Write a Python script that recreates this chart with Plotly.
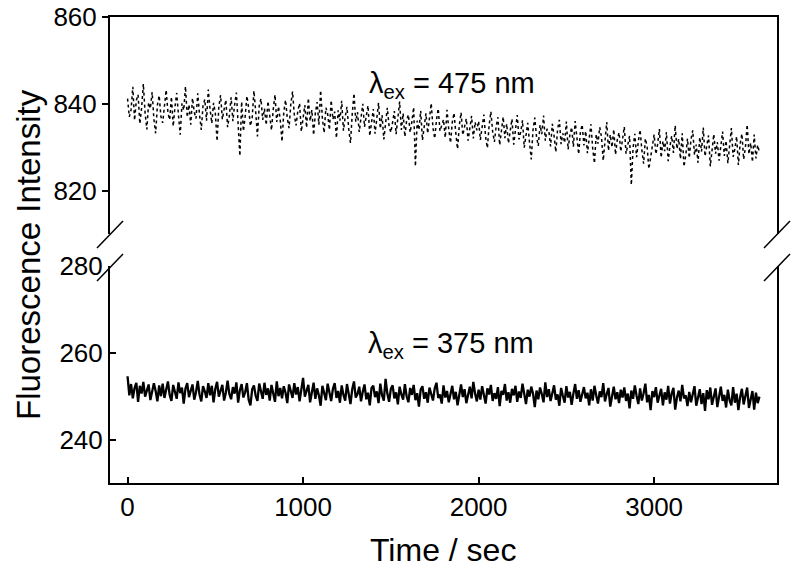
import plotly.graph_objects as go

# time axis (s), one reading every 10 s
time_s = list(range(0, 3601, 10))

# fluorescence, excitation 475 nm (upper panel)
f475 = [
    841.2, 837.0, 838.6, 843.9, 836.2, 840.8, 842.1, 835.4, 839.0, 844.6, 837.8, 834.1, 840.3, 838.9, 842.7, 836.5, 833.2, 839.7, 841.9, 837.1,
    835.6, 840.4, 843.2, 838.0, 836.3, 841.6, 834.8, 839.2, 842.5, 837.4, 832.9, 840.1, 838.5, 844.0, 836.9, 839.8, 835.2, 841.3, 838.1, 836.6,
    842.4, 837.5, 834.0, 839.6, 841.0, 836.1, 843.3, 838.8, 835.5, 840.2, 837.9, 831.4, 839.3, 842.0, 836.4, 838.7, 840.9, 834.6, 837.2, 841.5,
    836.0, 839.8, 842.6, 835.3, 828.0, 840.5, 833.7, 837.1, 841.8, 839.0, 834.9, 836.8, 843.0, 838.2, 832.5, 839.5, 841.2, 836.3, 838.9, 835.1,
    840.6, 837.3, 833.9, 838.7, 842.1, 835.8, 839.4, 836.2, 831.3, 838.0, 840.9, 836.7, 834.4, 839.9, 842.8, 837.5, 835.0, 838.3, 840.1, 833.6,
    837.4, 839.7, 834.5, 841.3, 836.0, 838.6, 832.8, 837.9, 840.4, 835.2, 843.1, 836.6, 833.3, 839.1, 837.7, 834.0, 840.8, 836.4, 838.2, 832.1,
    838.5, 836.1, 840.7, 833.8, 837.0, 839.3, 834.2, 831.0, 837.6, 842.4, 835.9, 838.1, 833.5, 836.8, 840.0, 834.7, 837.3, 839.6, 832.6, 836.3,
    838.8, 833.1, 836.5, 840.2, 834.3, 837.4, 831.8, 836.0, 839.1, 834.8, 833.4, 835.7, 838.3, 833.0, 836.9, 840.5, 834.0, 837.8, 832.4, 836.2,
    837.5, 833.4, 835.9, 839.2, 825.6, 836.1, 834.0, 838.4, 831.6, 835.5, 837.8, 833.2, 836.7, 840.1, 834.5, 832.0, 836.3, 838.9, 833.7, 835.1,
    836.4, 832.2, 838.6, 834.1, 831.0, 835.7, 837.9, 833.3, 829.6, 835.0, 838.0, 832.8, 834.9, 836.6, 831.5, 834.3, 837.2, 832.0, 835.8, 833.9,
    836.0, 831.7, 834.4, 837.5, 832.3, 829.8, 835.1, 838.2, 833.6, 831.2, 834.8, 836.9, 830.5, 833.9, 837.0, 832.1, 835.4, 830.9, 834.2, 836.5,
    830.6, 834.9, 837.4, 831.8, 833.5, 836.2, 829.9, 832.7, 835.6, 831.1, 827.2, 834.0, 836.8, 832.4, 830.3, 835.1, 833.0, 837.3, 831.5, 834.2,
    833.8, 830.2, 835.4, 832.6, 828.9, 834.1, 836.3, 830.7, 833.2, 831.0, 835.9, 829.5, 832.8, 834.6, 830.1, 836.0, 831.9, 828.4, 833.5, 835.2,
    830.4, 833.7, 828.6, 832.1, 835.3, 829.7, 826.3, 833.0, 830.8, 834.6, 832.4, 826.9, 831.5, 835.8, 829.2, 832.9, 830.0, 834.1, 828.3, 831.7,
    833.4, 829.0, 831.8, 834.7, 828.5, 830.9, 832.6, 821.3, 829.8, 833.1, 827.7, 831.3, 834.0, 829.4, 826.2, 832.0, 830.1, 825.0, 828.0, 831.1,
    832.9, 828.4, 830.7, 834.2, 827.6, 831.4, 829.1, 833.5, 826.8, 830.2, 832.6, 828.7, 835.0, 829.6, 831.9, 827.3, 833.2, 825.5, 828.1, 832.0,
    827.5, 831.8, 833.9, 828.2, 830.6, 826.4, 832.3, 829.0, 834.5, 827.9, 830.1, 832.7, 825.6, 829.8, 833.0, 828.5, 831.2, 826.9, 830.4, 833.6,
    828.0, 831.5, 826.3, 830.2, 834.4, 827.8, 829.6, 832.5, 825.9, 830.8, 833.1, 827.2, 829.9, 835.2, 828.4, 831.0, 826.6, 832.9, 827.4, 830.5,
    828.8,
]

# fluorescence, excitation 375 nm (lower panel)
f375 = [
    254.6, 250.2, 252.8, 249.5, 251.9, 253.1, 248.7, 252.4, 250.6, 253.3, 249.9, 251.4, 252.7, 249.1, 250.8, 253.0, 251.2, 248.8, 252.5, 250.0,
    252.9, 249.6, 251.5, 253.4, 250.3, 248.9, 252.6, 251.0, 249.4, 253.2, 250.7, 252.0, 248.3, 251.8, 253.0, 249.8, 251.3, 252.7, 249.2, 250.9,
    253.5, 250.4, 248.8, 252.3, 251.1, 249.6, 253.0, 250.2, 252.4, 248.6, 251.7, 253.3, 249.9, 251.2, 252.6, 249.0, 250.8, 253.6, 250.5, 249.3,
    252.1, 250.6, 253.2, 248.5, 251.4, 252.8, 249.7, 250.9, 253.0, 249.2, 247.9, 251.6, 252.5, 250.1, 248.9, 252.9, 251.0, 249.4, 253.1, 250.3,
    251.8, 249.0, 252.6, 250.7, 248.7, 253.4, 250.0, 251.9, 249.5, 252.3, 250.8, 248.4, 252.7, 251.2, 249.6, 253.0, 250.4, 252.1, 248.8, 251.5,
    254.2, 249.9, 251.3, 252.6, 248.6, 250.7, 253.1, 249.4, 251.8, 250.2, 247.8, 252.4, 250.9, 249.1, 252.9, 250.5, 248.9, 251.7, 253.0, 249.6,
    251.2, 248.5, 252.5, 250.3, 249.0, 252.8, 250.9, 248.2, 251.6, 253.4, 249.7, 250.5, 252.2, 248.8, 251.0, 252.7, 249.3, 250.8, 247.9, 251.9,
    252.4, 249.8, 251.1, 248.4, 252.9, 250.2, 249.0, 254.0, 250.6, 248.7, 251.7, 252.5, 249.5, 250.9, 248.1, 252.2, 250.4, 249.2, 252.8, 250.0,
    248.6, 251.9, 250.3, 252.6, 249.1, 250.7, 247.6, 251.5, 252.3, 249.4, 250.9, 248.5, 252.0, 250.2, 249.0, 251.8, 253.1, 249.6, 250.4, 248.3,
    252.5, 249.7, 251.2, 248.6, 250.8, 252.4, 249.3, 251.0, 247.9, 250.5, 252.7, 249.8, 251.6, 248.4, 250.1, 252.2, 249.5, 253.3, 250.6, 248.8,
    251.5, 249.2, 252.3, 250.0, 248.3, 251.8, 250.4, 252.6, 248.9, 250.7, 249.4, 252.1, 247.7, 251.2, 250.3, 252.8, 249.0, 250.9, 248.5, 251.7,
    250.2, 252.4, 248.7, 251.1, 249.6, 252.9, 250.0, 248.2, 251.5, 249.9, 252.2, 250.6, 247.5, 251.3, 249.3, 252.0, 250.5, 248.6, 253.2, 249.8,
    251.6, 248.9, 250.7, 252.5, 249.2, 250.4, 247.8, 251.9, 250.1, 248.5, 252.3, 249.7, 251.0, 248.0, 250.6, 252.8, 249.4, 251.4, 248.7, 250.3,
    252.1, 249.5, 250.8, 247.9, 251.6, 249.0, 252.4, 250.2, 248.3, 251.1, 249.8, 253.0, 248.8, 250.5, 251.9, 247.6, 250.0, 252.2, 249.3, 250.9,
    248.4, 251.5, 249.7, 252.0, 248.9, 250.6, 247.2, 251.3, 249.4, 252.5, 250.1, 248.2, 251.8, 249.0, 250.7, 252.9, 248.6, 250.3, 246.8, 251.2,
    249.8, 252.1, 248.5, 250.4, 251.7, 247.9, 250.9, 249.2, 252.4, 248.3, 250.6, 251.9, 246.9, 249.7, 251.3, 248.8, 252.6, 249.5, 250.2, 247.7,
    251.0, 248.6, 250.5, 252.3, 247.8, 249.9, 251.6, 248.2, 250.7, 246.6, 251.4, 249.3, 252.0, 248.0, 250.1, 251.8, 247.5, 249.6, 252.2, 248.9,
    250.3, 247.4, 251.5, 249.0, 247.9, 252.1, 248.5, 250.6, 246.8, 249.8, 251.7, 248.1, 250.2, 252.0, 247.3, 249.5, 251.2, 246.9, 250.8, 248.4,
    249.9,
]

x_ticks = [0, 1000, 2000, 3000]
low_ticks = [240, 260, 280]
up_ticks = [820, 840, 860]

FONT = "Liberation Sans, Arial, sans-serif"

# plot area in pixels: left 110, right 777, top 17, bottom 483
L, R, T, B = 110, 777, 17, 483


def px(xp):
    return (xp - L) / (R - L)


def py(yp):
    return (B - yp) / (B - T)


fig = go.Figure()
fig.add_trace(go.Scatter(x=time_s, y=f375, mode="lines", xaxis="x", yaxis="y",
                         line=dict(color="black", width=2.3), showlegend=False))
fig.add_trace(go.Scatter(x=time_s, y=f475, mode="lines", xaxis="x2", yaxis="y2",
                         line=dict(color="black", width=1.5, dash="dot"), showlegend=False))

axis_common = dict(showgrid=False, zeroline=False, linecolor="black", linewidth=2,
                   tickcolor="black", tickwidth=1.5, ticklen=6, automargin=False,
                   tickfont=dict(family=FONT, size=26, color="black"))

fig.update_layout(
    width=800, height=581,
    margin=dict(l=L, r=800 - R, t=T, b=581 - B, autoexpand=False),
    plot_bgcolor="white", paper_bgcolor="white",
    xaxis=dict(range=[-100, 3700], domain=[0, 1], anchor="y", showline=True,
               ticks="inside", tickvals=x_ticks, **axis_common),
    xaxis2=dict(range=[-100, 3700], domain=[0, 1], anchor="y2", matches="x",
                showline=True, side="top", ticks="", showticklabels=False,
                **axis_common),
    yaxis=dict(range=[230, 280], domain=[0, py(266)], anchor="x", showline=True,
               mirror=True, ticks="inside", tickvals=low_ticks, **axis_common),
    yaxis2=dict(range=[810, 860], domain=[py(234), 1], anchor="x2", showline=True,
                mirror=True, ticks="outside", tickvals=up_ticks, **axis_common),
)

# axis break marks on both sides
for x0 in (L, R):
    for yc in (235, 268):
        fig.add_shape(type="line", xref="paper", yref="paper",
                      x0=px(x0 - 13), y0=py(yc + 13), x1=px(x0 + 13), y1=py(yc - 14),
                      line=dict(color="black", width=1.5))

fig.add_annotation(text="λ<sub>ex</sub> = 475 nm", xref="paper", yref="paper",
                   x=px(452), y=py(85), xanchor="center", yanchor="middle",
                   showarrow=False, font=dict(family=FONT, size=29, color="black"))
fig.add_annotation(text="λ<sub>ex</sub> = 375 nm", xref="paper", yref="paper",
                   x=px(451), y=py(345), xanchor="center", yanchor="middle",
                   showarrow=False, font=dict(family=FONT, size=29, color="black"))

fig.add_annotation(text="Fluorescence Intensity", xref="paper", yref="paper",
                   x=px(28), y=py(255), xanchor="center", yanchor="middle", textangle=-90,
                   showarrow=False, font=dict(family=FONT, size=33, color="black"))
fig.add_annotation(text="Time / sec", xref="paper", yref="paper",
                   x=px(443), y=py(550), xanchor="center", yanchor="middle",
                   showarrow=False, font=dict(family=FONT, size=32, color="black"))

# drop the browser's default body margin so the figure sits at the page corner
fig.write_html("out.html", config={"displayModeBar": False},
               post_script="document.body.style.margin = '0';")
